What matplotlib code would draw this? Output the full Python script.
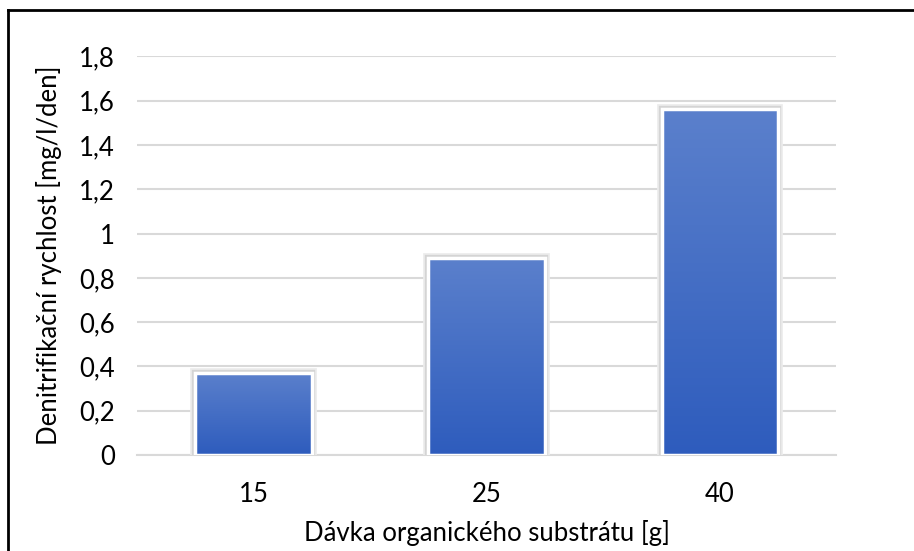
import numpy as np
import matplotlib.pyplot as plt
from matplotlib.lines import Line2D
from matplotlib.colors import LinearSegmentedColormap

plt.rcParams['font.family'] = ['Lato', 'DejaVu Sans']

categories = ['15', '25', '40']
rates = [0.37, 0.89, 1.56]
yticks = [0, 0.2, 0.4, 0.6, 0.8, 1.0, 1.2, 1.4, 1.6, 1.8]
ytick_labels = ['0', '0,2', '0,4', '0,6', '0,8', '1', '1,2', '1,4', '1,6', '1,8']

fig = plt.figure(figsize=(9.14, 5.51), dpi=100)
ax = fig.add_axes([0.15, 0.174, 0.765, 0.724])

x = np.arange(len(categories))
# soft shadow behind bars (two faint halos)
ax.bar(x, rates, width=0.5, color='none', edgecolor='#ececec', linewidth=7, zorder=2.8)
bars = ax.bar(x, rates, width=0.5, color='#3f68c4', edgecolor='#d4d4d4', linewidth=4.5, zorder=3)

# vertical gradient fill inside each bar
grad = np.linspace(0, 1, 256).reshape(-1, 1)
cmap = LinearSegmentedColormap.from_list('g', ['#2e5cbd', '#5b80cc'])
for b in bars:
    x0, w, h = b.get_x(), b.get_width(), b.get_height()
    im = ax.imshow(grad, cmap=cmap, aspect='auto', origin='lower',
                   extent=(x0, x0 + w, 0, h), zorder=3.5)
    im.set_clip_path(b)
# white outline on top of gradient
ax.bar(x, rates, width=0.5, facecolor='none', edgecolor='white', linewidth=2.5, zorder=4)

ax.set_xlim(-0.5, len(categories) - 0.5)
ax.set_ylim(0, 1.8)
ax.set_yticks(yticks)
ax.set_yticklabels(ytick_labels)
ax.set_xticks(x)
ax.set_xticklabels(categories)
ax.tick_params(length=0, labelsize=18.5)
ax.tick_params(axis='y', pad=16)
ax.tick_params(axis='x', pad=19)
ax.grid(axis='y', color='#d9d9d9', linewidth=1.5, zorder=0)
for s in ['top', 'right', 'left']:
    ax.spines[s].set_visible(False)
ax.spines['bottom'].set_color('#d9d9d9')
ax.spines['bottom'].set_linewidth(1.5)

ax.set_ylabel('Denitrifikační rychlost [mg/l/den]', fontsize=18.5, labelpad=12)
ax.set_xlabel('Dávka organického substrátu [g]', fontsize=18.5, labelpad=10)

# chart frame (only top and left visible in crop)
fig.add_artist(Line2D([8 / 914, 1], [1 - 10 / 551, 1 - 10 / 551], color='black', lw=2, transform=fig.transFigure))
fig.add_artist(Line2D([8 / 914, 8 / 914], [0, 1 - 10 / 551], color='black', lw=2, transform=fig.transFigure))

fig.savefig('out.png', dpi=100)
